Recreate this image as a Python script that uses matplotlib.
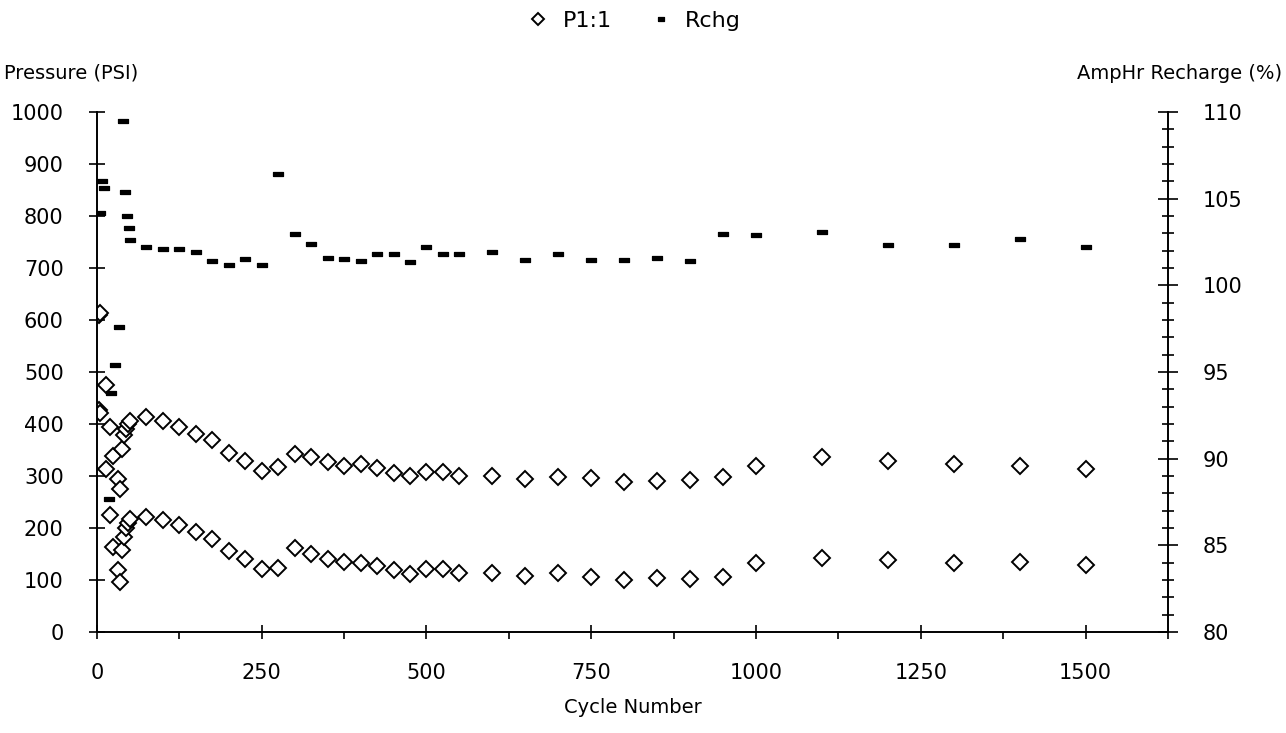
import matplotlib.pyplot as plt
from matplotlib.ticker import MultipleLocator

# pressure readings (two P1:1 bands) per cycle
cycles_p = [3, 5, 14, 20, 25, 32, 35, 38, 41, 44, 47, 50,
            75, 100, 125, 150, 175, 200, 225, 250,
            275, 300, 325, 350, 375, 400, 425, 450, 475, 500, 525, 550,
            600, 650, 700, 750, 800, 850, 900, 950,
            1000, 1100, 1200, 1300, 1400, 1500]
p_high = [610, 613, 475, 395, 338, 295, 275, 352, 378, 390, 400, 406,
          413, 405, 395, 380, 370, 345, 328, 310,
          318, 343, 337, 326, 320, 324, 316, 306, 300, 308, 308, 300,
          300, 295, 299, 297, 289, 291, 293, 299,
          320, 337, 328, 324, 320, 314]
p_low = [426, 422, 313, 225, 163, 120, 96, 157, 182, 200, 210, 218,
         222, 216, 205, 193, 178, 156, 141, 121,
         123, 162, 150, 141, 135, 133, 127, 119, 112, 121, 121, 114,
         114, 108, 114, 106, 100, 104, 102, 106,
         133, 143, 139, 133, 135, 129]

# amp-hour recharge (%)
cycles_r = [5, 8, 10, 18, 22, 28, 33, 40, 42, 45, 48, 50,
            75, 100, 125, 150, 175, 200, 225, 250,
            275, 300, 325, 350, 375, 400, 425, 450, 475, 500, 525, 550,
            600, 650, 700, 750, 800, 850, 900, 950,
            1000, 1100, 1200, 1300, 1400, 1500]
rchg = [104.15, 106.0, 105.6, 87.7, 93.8, 95.4, 97.6, 109.5, 105.4, 104.0, 103.3, 102.6,
        102.2, 102.1, 102.1, 101.9, 101.4, 101.2, 101.5, 101.2,
        106.4, 102.95, 102.4, 101.6, 101.5, 101.4, 101.8, 101.8, 101.35, 102.2, 101.8, 101.8,
        101.9, 101.45, 101.8, 101.45, 101.45, 101.6, 101.4, 102.95,
        102.9, 103.1, 102.3, 102.3, 102.7, 102.2]

plt.rcParams['font.family'] = 'DejaVu Sans'
fs = 15

fig = plt.figure(figsize=(12.86, 7.33), dpi=100)
ax = fig.add_axes([0.0754, 0.1378, 0.8328, 0.7094])
ax2 = ax.twinx()

# short filled bar used for the recharge points
dash = [(-1, -0.5), (1, -0.5), (1, 0.5), (-1, 0.5), (-1, -0.5)]

h1, = ax.plot(cycles_p, p_high, linestyle='none', marker='D', ms=8.3,
              mfc='white', mec='black', mew=1.4, label='P1:1')
ax.plot(cycles_p, p_low, linestyle='none', marker='D', ms=8.3,
        mfc='white', mec='black', mew=1.4)
h2, = ax2.plot(cycles_r, rchg, linestyle='none', marker=dash, ms=6.6,
               mfc='black', mec='black', mew=0.9, label='Rchg')

ax.set_xlim(0, 1625)
ax.set_ylim(0, 1000)
ax2.set_ylim(80, 110)

ax.xaxis.set_major_locator(MultipleLocator(250))
ax.xaxis.set_minor_locator(MultipleLocator(125))
ax.yaxis.set_major_locator(MultipleLocator(100))
ax2.yaxis.set_major_locator(MultipleLocator(5))
ax2.yaxis.set_minor_locator(MultipleLocator(1))

for a in (ax, ax2):
    a.spines['top'].set_visible(False)
    for s in a.spines.values():
        s.set_linewidth(1.2)

ax.tick_params(axis='x', which='major', direction='inout', length=10, width=1.2,
               labelsize=fs, pad=17)
ax.tick_params(axis='x', which='minor', direction='out', length=5, width=1.2)
ax.tick_params(axis='y', which='major', direction='inout', length=12, width=1.2,
               labelsize=fs, pad=18)
ax2.tick_params(axis='y', which='major', direction='inout', length=14, width=1.2,
                labelsize=fs, pad=18)
ax2.tick_params(axis='y', which='minor', direction='inout', length=9, width=1.2)

ax.set_xlabel('Cycle Number', fontsize=fs - 1, labelpad=11)
fig.text(0.003, 0.9, 'Pressure (PSI)', fontsize=fs - 1, ha='left', va='center')
fig.text(0.997, 0.9, 'AmpHr Recharge (%)', fontsize=fs - 1, ha='right', va='center')

fig.legend(handles=[h1, h2], loc='upper center', bbox_to_anchor=(0.493, 1.012),
           ncol=2, frameon=False, fontsize=fs + 1, handlelength=1,
           handletextpad=0.6, columnspacing=1.7, markerscale=0.75)

fig.savefig('out.png', dpi=100)
